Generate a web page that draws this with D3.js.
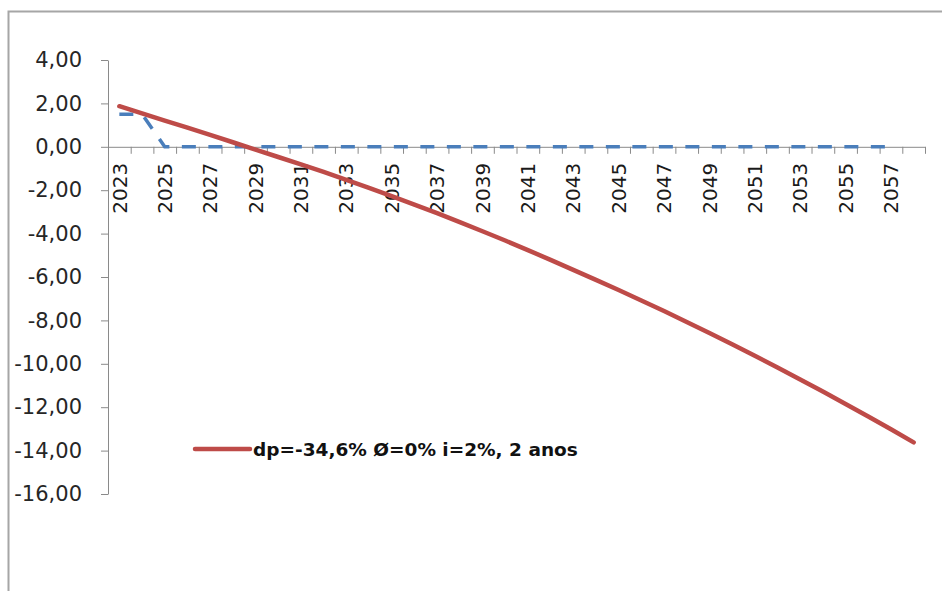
<!DOCTYPE html>
<html>
<head>
<meta charset="utf-8">
<script src="https://cdn.jsdelivr.net/npm/d3@7"></script>
<style>
  html, body { margin: 0; padding: 0; background: #fff; }
  svg { display: block; }
</style>
</head>
<body>
<svg id="chart" width="942" height="591"></svg>
<script>
// Years on the category axis
const years = d3.range(2023, 2059);

// Projected deviation, red series (dp=-34,6%, Ø=0%, i=2%, 2 anos)
const seriesRed = [
  1.87, 1.54, 1.21, 0.88, 0.55, 0.21, -0.13, -0.47, -0.81, -1.16,
  -1.52, -1.89, -2.27, -2.66, -3.06, -3.47, -3.89, -4.32, -4.76, -5.21,
  -5.67, -6.13, -6.60, -7.08, -7.57, -8.07, -8.58, -9.10, -9.63, -10.17,
  -10.72, -11.28, -11.85, -12.43, -13.02, -13.62
];

// Reference series, blue dashed (ends at 2057)
const seriesBlue = [
  1.50, 1.50, 0, 0, 0, 0, 0, 0, 0, 0,
  0, 0, 0, 0, 0, 0, 0, 0, 0, 0,
  0, 0, 0, 0, 0, 0, 0, 0, 0, 0,
  0, 0, 0, 0, 0
];

const yTicks = [4, 2, 0, -2, -4, -6, -8, -10, -12, -14, -16];
const xLabelYears = years.filter(y => (y - 2023) % 2 === 0);
const legendLabel = "dp=-34,6% Ø=0% i=2%, 2 anos";

const svg = d3.select("#chart");
const fontFamily = "'DejaVu Sans', sans-serif";
const axisColor = "#8a8a8a";

const ptBr = d3.formatLocale({ decimal: ",", thousands: ".", grouping: [3], currency: ["", ""], minus: "-" });
const fmt = ptBr.format(".2f");

// Chart frame
svg.append("path")
  .attr("d", "M8.5,591 L8.5,11.5 L942,11.5")
  .attr("fill", "none")
  .attr("stroke", "#a6a6a6")
  .attr("stroke-width", 2);

const y = d3.scaleLinear().domain([-16, 4]).range([494, 60]);
const x = d3.scaleBand().domain(years).range([108, 925]).padding(0);
const xEdge = d3.scaleLinear().domain([0, years.length]).range([108, 925]);
const cx = d => x(d) + x.bandwidth() / 2;

// Value axis
const yAxis = svg.append("g")
  .attr("transform", "translate(108,0)")
  .call(d3.axisLeft(y).tickValues(yTicks).tickFormat(fmt).tickSize(7).tickSizeOuter(0).tickPadding(19));
yAxis.select(".domain").attr("stroke", axisColor);
yAxis.selectAll(".tick line").attr("stroke", axisColor);
yAxis.selectAll("text")
  .attr("font-family", fontFamily)
  .attr("font-size", 21)
  .attr("fill", "#262626");

// Category axis at zero, ticks between categories
const y0 = y(0);
const xTicks = svg.append("g")
  .attr("transform", `translate(0,${y0})`)
  .call(d3.axisBottom(xEdge).tickValues(d3.range(years.length + 1)).tickFormat("").tickSize(7).tickSizeOuter(0));
xTicks.select(".domain").attr("stroke", axisColor);
xTicks.selectAll(".tick line").attr("stroke", axisColor);

// Rotated year labels at every other category
svg.append("g")
  .selectAll("text")
  .data(xLabelYears)
  .join("text")
  .attr("transform", d => `translate(${cx(d)},${y0 + 16}) rotate(-90)`)
  .attr("text-anchor", "end")
  .attr("dy", "0.36em")
  .attr("font-family", fontFamily)
  .attr("font-size", 20)
  .attr("fill", "#1a1a1a")
  .text(d => d);

// Series lines
const line = d3.line()
  .x((d, i) => cx(years[i]))
  .y(d => y(d));

svg.append("path")
  .datum(seriesBlue)
  .attr("d", line)
  .attr("fill", "none")
  .attr("stroke", "#4A7EBB")
  .attr("stroke-width", 3.5)
  .attr("stroke-dasharray", "14,12.5");

svg.append("path")
  .datum(seriesRed)
  .attr("d", line)
  .attr("fill", "none")
  .attr("stroke", "#BE4B48")
  .attr("stroke-width", 4.5)
  .attr("stroke-linejoin", "round")
  .attr("stroke-linecap", "round");

// Legend
const legend = svg.append("g").attr("transform", "translate(195,449)");
legend.append("line")
  .attr("x1", 0).attr("x2", 55)
  .attr("y1", 0).attr("y2", 0)
  .attr("stroke", "#BE4B48")
  .attr("stroke-width", 4.5)
  .attr("stroke-linecap", "round");
legend.append("text")
  .attr("x", 58)
  .attr("y", 7)
  .attr("font-family", fontFamily)
  .attr("font-weight", "bold")
  .attr("font-size", 18.5)
  .attr("fill", "#111")
  .text(legendLabel);
</script>
</body>
</html>
